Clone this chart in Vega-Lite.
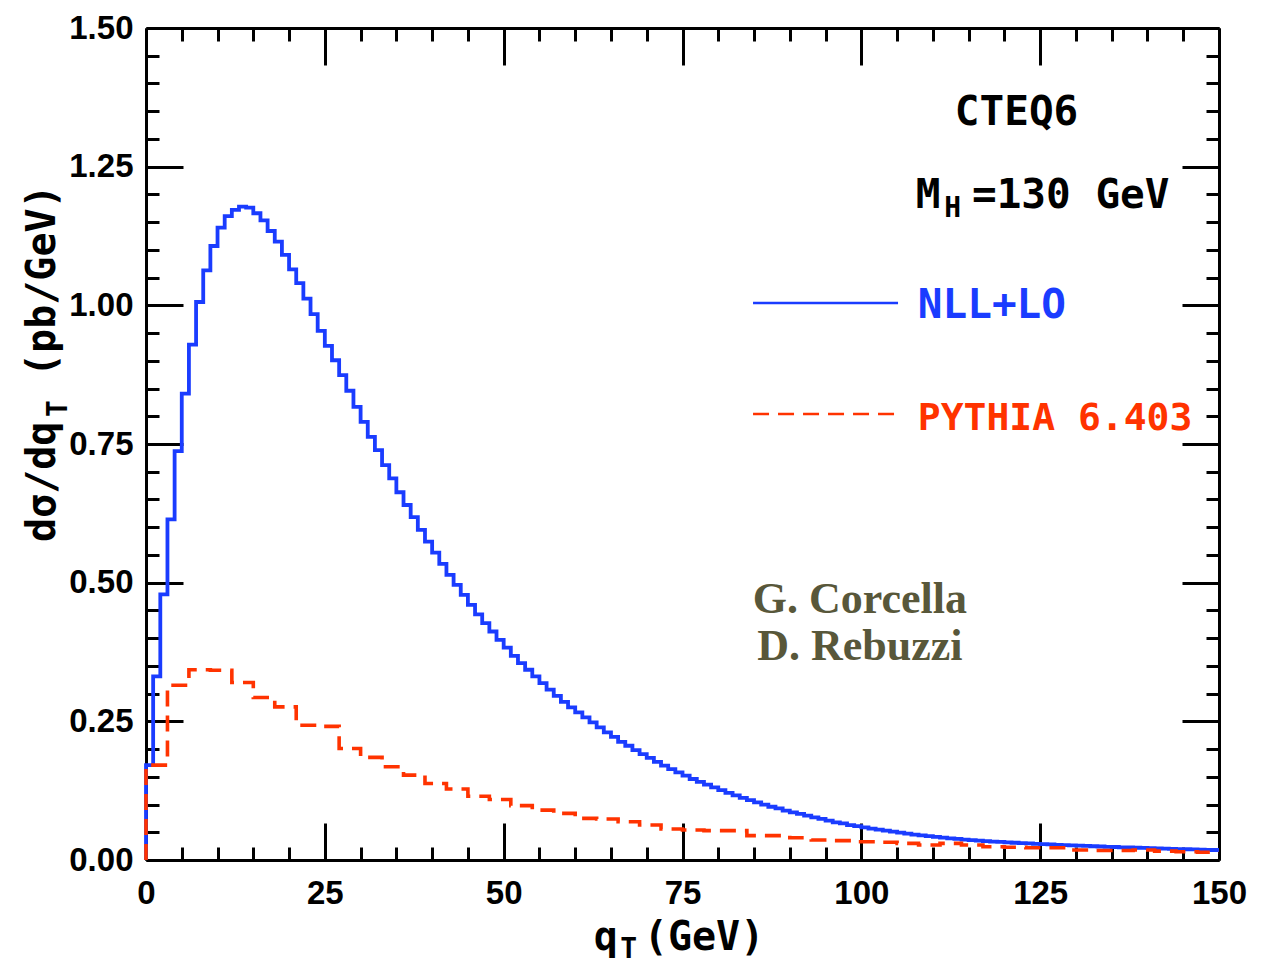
{
  "$schema": "https://vega.github.io/schema/vega-lite/v6.json",
  "autosize": {"type": "none"},
  "width": 1073,
  "height": 832,
  "padding": {"left": 146, "top": 28, "right": 55, "bottom": 101},
  "background": "white",
  "config": {"view": {"stroke": null}},
  "datasets": {
    "nll": [
      {"q":0,"v":0},{"q":0,"v":0.171},{"q":1,"v":0.331},{"q":2,"v":0.479},{"q":3,"v":0.614},{"q":4,"v":0.737},
      {"q":5,"v":0.841},{"q":6,"v":0.929},{"q":7,"v":1.006},{"q":8,"v":1.063},{"q":9,"v":1.107},
      {"q":10,"v":1.140},{"q":11,"v":1.161},{"q":12,"v":1.172},{"q":13,"v":1.178},{"q":14,"v":1.176},
      {"q":15,"v":1.166},{"q":16,"v":1.153},{"q":17,"v":1.134},{"q":18,"v":1.115},{"q":19,"v":1.091},
      {"q":20,"v":1.065},{"q":21,"v":1.040},{"q":22,"v":1.012},{"q":23,"v":0.984},{"q":24,"v":0.954},
      {"q":25,"v":0.927},{"q":26,"v":0.901},{"q":27,"v":0.874},{"q":28,"v":0.846},{"q":29,"v":0.817},
      {"q":30,"v":0.790},{"q":31,"v":0.763},{"q":32,"v":0.739},{"q":33,"v":0.712},{"q":34,"v":0.688},
      {"q":35,"v":0.663},{"q":36,"v":0.640},{"q":37,"v":0.618},{"q":38,"v":0.595},{"q":39,"v":0.574},
      {"q":40,"v":0.554},{"q":41,"v":0.534},{"q":42,"v":0.514},{"q":43,"v":0.496},{"q":44,"v":0.478},
      {"q":45,"v":0.460},{"q":46,"v":0.443},{"q":47,"v":0.427},{"q":48,"v":0.412},{"q":49,"v":0.397},
      {"q":50,"v":0.383},{"q":51,"v":0.368},{"q":52,"v":0.355},{"q":53,"v":0.343},{"q":54,"v":0.331},
      {"q":55,"v":0.319},{"q":56,"v":0.307},{"q":57,"v":0.296},{"q":58,"v":0.285},{"q":59,"v":0.275},
      {"q":60,"v":0.266},{"q":61,"v":0.257},{"q":62,"v":0.248},{"q":63,"v":0.239},{"q":64,"v":0.230},
      {"q":65,"v":0.222},{"q":66,"v":0.213},{"q":67,"v":0.206},{"q":68,"v":0.198},{"q":69,"v":0.191},
      {"q":70,"v":0.184},{"q":71,"v":0.177},{"q":72,"v":0.170},{"q":73,"v":0.164},{"q":74,"v":0.158},
      {"q":75,"v":0.152},{"q":76,"v":0.146},{"q":77,"v":0.141},{"q":78,"v":0.136},{"q":79,"v":0.131},
      {"q":80,"v":0.126},{"q":81,"v":0.121},{"q":82,"v":0.1165},{"q":83,"v":0.112},{"q":84,"v":0.108},
      {"q":85,"v":0.104},{"q":86,"v":0.100},{"q":87,"v":0.096},{"q":88,"v":0.093},{"q":89,"v":0.089},
      {"q":90,"v":0.086},{"q":91,"v":0.083},{"q":92,"v":0.080},{"q":93,"v":0.077},{"q":94,"v":0.074},
      {"q":95,"v":0.071},{"q":96,"v":0.068},{"q":97,"v":0.066},{"q":98,"v":0.063},{"q":99,"v":0.061},
      {"q":100,"v":0.0588},{"q":101,"v":0.0567},{"q":102,"v":0.0547},{"q":103,"v":0.0528},{"q":104,"v":0.0510},
      {"q":105,"v":0.0492},{"q":106,"v":0.0475},{"q":107,"v":0.0459},{"q":108,"v":0.0444},{"q":109,"v":0.0430},
      {"q":110,"v":0.0416},{"q":111,"v":0.0403},{"q":112,"v":0.0391},{"q":113,"v":0.0380},{"q":114,"v":0.0369},
      {"q":115,"v":0.0359},{"q":116,"v":0.0350},{"q":117,"v":0.0341},{"q":118,"v":0.0333},{"q":119,"v":0.0325},
      {"q":120,"v":0.0318},{"q":121,"v":0.0311},{"q":122,"v":0.0304},{"q":123,"v":0.0298},{"q":124,"v":0.0292},
      {"q":125,"v":0.0286},{"q":126,"v":0.0280},{"q":127,"v":0.0274},{"q":128,"v":0.0268},{"q":129,"v":0.0263},
      {"q":130,"v":0.0258},{"q":131,"v":0.0253},{"q":132,"v":0.0248},{"q":133,"v":0.0243},{"q":134,"v":0.0238},
      {"q":135,"v":0.0234},{"q":136,"v":0.0229},{"q":137,"v":0.0225},{"q":138,"v":0.0221},{"q":139,"v":0.0217},
      {"q":140,"v":0.0213},{"q":141,"v":0.0209},{"q":142,"v":0.0205},{"q":143,"v":0.0201},{"q":144,"v":0.0197},
      {"q":145,"v":0.0194},{"q":146,"v":0.0190},{"q":147,"v":0.0187},{"q":148,"v":0.0183},{"q":149,"v":0.0180},
      {"q":150,"v":0.0180}
    ],
    "pythia": [
      {"q":0,"v":0},{"q":0,"v":0.171},{"q":3,"v":0.315},{"q":6,"v":0.343},{"q":9,"v":0.342},{"q":12,"v":0.320},
      {"q":15,"v":0.293},{"q":18,"v":0.276},{"q":21,"v":0.243},{"q":24,"v":0.241},{"q":27,"v":0.201},
      {"q":30,"v":0.185},{"q":33,"v":0.168},{"q":36,"v":0.153},{"q":39,"v":0.138},{"q":42,"v":0.128},
      {"q":45,"v":0.115},{"q":48,"v":0.109},{"q":51,"v":0.098},{"q":54,"v":0.090},{"q":57,"v":0.084},
      {"q":60,"v":0.075},{"q":63,"v":0.074},{"q":66,"v":0.069},{"q":69,"v":0.063},{"q":72,"v":0.056},
      {"q":75,"v":0.054},{"q":78,"v":0.053},{"q":81,"v":0.053},{"q":84,"v":0.044},{"q":87,"v":0.044},
      {"q":90,"v":0.040},{"q":93,"v":0.036},{"q":96,"v":0.035},{"q":99,"v":0.033},{"q":102,"v":0.032},
      {"q":105,"v":0.030},{"q":108,"v":0.027},{"q":111,"v":0.030},{"q":114,"v":0.027},{"q":117,"v":0.024},
      {"q":120,"v":0.023},{"q":123,"v":0.022},{"q":126,"v":0.022},{"q":129,"v":0.018},{"q":132,"v":0.017},
      {"q":135,"v":0.017},{"q":138,"v":0.018},{"q":141,"v":0.016},{"q":144,"v":0.015},{"q":147,"v":0.014},
      {"q":150,"v":0.014}
    ],
    "one": [{}]
  },
  "resolve": {"axis": {"x": "independent", "y": "independent"}},
  "layer": [
    {
      "data": {"name": "nll"},
      "mark": {"type": "line", "interpolate": "step-after", "color": "#1a3cff", "strokeWidth": 3.8},
      "encoding": {
        "x": {"field": "q", "type": "quantitative", "scale": {"domain": [0, 150], "nice": false, "zero": false},
          "axis": {"orient": "bottom", "title": null, "grid": false,
            "values": [0,5,10,15,20,25,30,35,40,45,50,55,60,65,70,75,80,85,90,95,100,105,110,115,120,125,130,135,140,145,150],
            "labelExpr": "datum.value % 25 === 0 ? datum.label : ''",
            "tickSize": {"condition": {"test": "datum.value % 25 === 0", "value": -37}, "value": -13},
            "tickColor": "black", "tickWidth": 3, "domainColor": "black", "domainWidth": 3,
            "labelFont": "Liberation Sans", "labelFontWeight": "bold", "labelFontSize": 33, "labelColor": "black",
            "labelBaseline": "top", "labelPadding": 54, "labelFlush": false, "labelOverlap": false}},
        "y": {"field": "v", "type": "quantitative", "scale": {"domain": [0, 1.5], "nice": false},
          "axis": {"orient": "left", "title": null, "grid": false, "format": ".2f",
            "values": [0,0.05,0.1,0.15,0.2,0.25,0.3,0.35,0.4,0.45,0.5,0.55,0.6,0.65,0.7,0.75,0.8,0.85,0.9,0.95,1,1.05,1.1,1.15,1.2,1.25,1.3,1.35,1.4,1.45,1.5],
            "labelExpr": "round(datum.value * 100) % 25 === 0 ? datum.label : ''",
            "tickSize": {"condition": {"test": "round(datum.value * 100) % 25 === 0", "value": -37}, "value": -13},
            "tickColor": "black", "tickWidth": 3, "domainColor": "black", "domainWidth": 3,
            "labelFont": "Liberation Sans", "labelFontWeight": "bold", "labelFontSize": 33, "labelColor": "black",
            "labelPadding": 50, "labelFlush": false, "labelOverlap": false}}
      }
    },
    {
      "data": {"name": "pythia"},
      "mark": {"type": "line", "interpolate": "step-after", "color": "#ff3300", "strokeWidth": 3.6, "strokeDash": [16, 9]},
      "encoding": {
        "x": {"field": "q", "type": "quantitative", "scale": {"domain": [0, 150], "nice": false, "zero": false},
          "axis": {"orient": "top", "title": null, "grid": false, "labels": false,
            "values": [0,5,10,15,20,25,30,35,40,45,50,55,60,65,70,75,80,85,90,95,100,105,110,115,120,125,130,135,140,145,150],
            "tickSize": {"condition": {"test": "datum.value % 25 === 0", "value": -37}, "value": -13},
            "tickColor": "black", "tickWidth": 3, "domainColor": "black", "domainWidth": 3}},
        "y": {"field": "v", "type": "quantitative", "scale": {"domain": [0, 1.5], "nice": false},
          "axis": {"orient": "right", "title": null, "grid": false, "labels": false,
            "values": [0,0.05,0.1,0.15,0.2,0.25,0.3,0.35,0.4,0.45,0.5,0.55,0.6,0.65,0.7,0.75,0.8,0.85,0.9,0.95,1,1.05,1.1,1.15,1.2,1.25,1.3,1.35,1.4,1.45,1.5],
            "tickSize": {"condition": {"test": "round(datum.value * 100) % 25 === 0", "value": -37}, "value": -13},
            "tickColor": "black", "tickWidth": 3, "domainColor": "black", "domainWidth": 3}}
      }
    },
    {
      "data": {"name": "one"},
      "mark": {"type": "rule", "color": "#1a3cff", "strokeWidth": 2.5},
      "encoding": {
        "x": {"datum": 84.86, "type": "quantitative", "axis": null, "scale": {"domain": [0, 150], "nice": false, "zero": false}},
        "x2": {"datum": 105.13},
        "y": {"datum": 1.0042, "type": "quantitative", "axis": null, "scale": {"domain": [0, 1.5], "nice": false}}
      }
    },
    {
      "data": {"name": "one"},
      "mark": {"type": "rule", "color": "#ff3300", "strokeWidth": 2.5, "strokeDash": [16, 9]},
      "encoding": {
        "x": {"datum": 84.86, "type": "quantitative", "axis": null, "scale": {"domain": [0, 150], "nice": false, "zero": false}},
        "x2": {"datum": 105.13},
        "y": {"datum": 0.8041, "type": "quantitative", "axis": null, "scale": {"domain": [0, 1.5], "nice": false}}
      }
    },
    {
      "data": {"name": "one"},
      "mark": {"type": "text", "text": "CTEQ6", "align": "center", "baseline": "alphabetic", "font": "DejaVu Sans Mono", "fontWeight": "bold", "fontSize": 41, "color": "black"},
      "encoding": {
        "x": {"datum": 121.7, "type": "quantitative", "axis": null, "scale": {"domain": [0, 150], "nice": false, "zero": false}},
        "y": {"datum": 1.3251, "type": "quantitative", "axis": null, "scale": {"domain": [0, 1.5], "nice": false}}
      }
    },
    {
      "data": {"name": "one"},
      "mark": {"type": "text", "text": "M", "align": "left", "baseline": "alphabetic", "font": "DejaVu Sans Mono", "fontWeight": "bold", "fontSize": 41, "color": "black"},
      "encoding": {
        "x": {"datum": 107.6, "type": "quantitative", "axis": null, "scale": {"domain": [0, 150], "nice": false, "zero": false}},
        "y": {"datum": 1.1749, "type": "quantitative", "axis": null, "scale": {"domain": [0, 1.5], "nice": false}}
      }
    },
    {
      "data": {"name": "one"},
      "mark": {"type": "text", "text": "H", "align": "left", "baseline": "alphabetic", "font": "DejaVu Sans Mono", "fontWeight": "bold", "fontSize": 28, "color": "black"},
      "encoding": {
        "x": {"datum": 111.6, "type": "quantitative", "axis": null, "scale": {"domain": [0, 150], "nice": false, "zero": false}},
        "y": {"datum": 1.1593, "type": "quantitative", "axis": null, "scale": {"domain": [0, 1.5], "nice": false}}
      }
    },
    {
      "data": {"name": "one"},
      "mark": {"type": "text", "text": "=130 GeV", "align": "left", "baseline": "alphabetic", "font": "DejaVu Sans Mono", "fontWeight": "bold", "fontSize": 41, "color": "black"},
      "encoding": {
        "x": {"datum": 115.47, "type": "quantitative", "axis": null, "scale": {"domain": [0, 150], "nice": false, "zero": false}},
        "y": {"datum": 1.1749, "type": "quantitative", "axis": null, "scale": {"domain": [0, 1.5], "nice": false}}
      }
    },
    {
      "data": {"name": "one"},
      "mark": {"type": "text", "text": "NLL+LO", "align": "left", "baseline": "alphabetic", "font": "DejaVu Sans Mono", "fontWeight": "bold", "fontSize": 41, "color": "#1a3cff"},
      "encoding": {
        "x": {"datum": 107.9, "type": "quantitative", "axis": null, "scale": {"domain": [0, 150], "nice": false, "zero": false}},
        "y": {"datum": 0.9766, "type": "quantitative", "axis": null, "scale": {"domain": [0, 1.5], "nice": false}}
      }
    },
    {
      "data": {"name": "one"},
      "mark": {"type": "text", "text": "PYTHIA 6.403", "align": "left", "baseline": "alphabetic", "font": "DejaVu Sans Mono", "fontWeight": "bold", "fontSize": 38, "color": "#ff3300"},
      "encoding": {
        "x": {"datum": 107.9, "type": "quantitative", "axis": null, "scale": {"domain": [0, 150], "nice": false, "zero": false}},
        "y": {"datum": 0.7752, "type": "quantitative", "axis": null, "scale": {"domain": [0, 1.5], "nice": false}}
      }
    },
    {
      "data": {"name": "one"},
      "mark": {"type": "text", "text": "G. Corcella", "align": "center", "baseline": "alphabetic", "font": "Liberation Serif", "fontWeight": "bold", "fontSize": 44, "color": "#58573a"},
      "encoding": {
        "x": {"datum": 99.8, "type": "quantitative", "axis": null, "scale": {"domain": [0, 150], "nice": false, "zero": false}},
        "y": {"datum": 0.4453, "type": "quantitative", "axis": null, "scale": {"domain": [0, 1.5], "nice": false}}
      }
    },
    {
      "data": {"name": "one"},
      "mark": {"type": "text", "text": "D. Rebuzzi", "align": "center", "baseline": "alphabetic", "font": "Liberation Serif", "fontWeight": "bold", "fontSize": 44, "color": "#58573a"},
      "encoding": {
        "x": {"datum": 99.8, "type": "quantitative", "axis": null, "scale": {"domain": [0, 150], "nice": false, "zero": false}},
        "y": {"datum": 0.3606, "type": "quantitative", "axis": null, "scale": {"domain": [0, 1.5], "nice": false}}
      }
    },
    {
      "data": {"name": "one"},
      "mark": {"type": "text", "text": "q", "align": "left", "baseline": "alphabetic", "font": "DejaVu Sans Mono", "fontWeight": "bold", "fontSize": 40, "color": "black"},
      "encoding": {
        "x": {"datum": 62.6, "type": "quantitative", "axis": null, "scale": {"domain": [0, 150], "nice": false, "zero": false}},
        "y": {"datum": -0.1623, "type": "quantitative", "axis": null, "scale": {"domain": [0, 1.5], "nice": false}}
      }
    },
    {
      "data": {"name": "one"},
      "mark": {"type": "text", "text": "T", "align": "left", "baseline": "alphabetic", "font": "DejaVu Sans Mono", "fontWeight": "bold", "fontSize": 28, "color": "black"},
      "encoding": {
        "x": {"datum": 66.3, "type": "quantitative", "axis": null, "scale": {"domain": [0, 150], "nice": false, "zero": false}},
        "y": {"datum": -0.1767, "type": "quantitative", "axis": null, "scale": {"domain": [0, 1.5], "nice": false}}
      }
    },
    {
      "data": {"name": "one"},
      "mark": {"type": "text", "text": "(GeV)", "align": "left", "baseline": "alphabetic", "font": "DejaVu Sans Mono", "fontWeight": "bold", "fontSize": 40, "color": "black"},
      "encoding": {
        "x": {"datum": 69.6, "type": "quantitative", "axis": null, "scale": {"domain": [0, 150], "nice": false, "zero": false}},
        "y": {"datum": -0.1623, "type": "quantitative", "axis": null, "scale": {"domain": [0, 1.5], "nice": false}}
      }
    },
    {
      "data": {"name": "one"},
      "mark": {"type": "text", "text": "dσ/dq", "angle": 270, "align": "left", "baseline": "alphabetic", "font": "DejaVu Sans Mono", "fontWeight": "bold", "fontSize": 40, "color": "black"},
      "encoding": {
        "x": {"datum": -12.72, "type": "quantitative", "axis": null, "scale": {"domain": [0, 150], "nice": false, "zero": false}},
        "y": {"datum": 0.5733, "type": "quantitative", "axis": null, "scale": {"domain": [0, 1.5], "nice": false}}
      }
    },
    {
      "data": {"name": "one"},
      "mark": {"type": "text", "text": "T", "angle": 270, "align": "left", "baseline": "alphabetic", "font": "DejaVu Sans Mono", "fontWeight": "bold", "fontSize": 28, "color": "black"},
      "encoding": {
        "x": {"datum": -11.0, "type": "quantitative", "axis": null, "scale": {"domain": [0, 150], "nice": false, "zero": false}},
        "y": {"datum": 0.7987, "type": "quantitative", "axis": null, "scale": {"domain": [0, 1.5], "nice": false}}
      }
    },
    {
      "data": {"name": "one"},
      "mark": {"type": "text", "text": "(pb/GeV)", "angle": 270, "align": "left", "baseline": "alphabetic", "font": "DejaVu Sans Mono", "fontWeight": "bold", "fontSize": 40, "color": "black"},
      "encoding": {
        "x": {"datum": -12.72, "type": "quantitative", "axis": null, "scale": {"domain": [0, 150], "nice": false, "zero": false}},
        "y": {"datum": 0.8708, "type": "quantitative", "axis": null, "scale": {"domain": [0, 1.5], "nice": false}}
      }
    }
  ]
}
